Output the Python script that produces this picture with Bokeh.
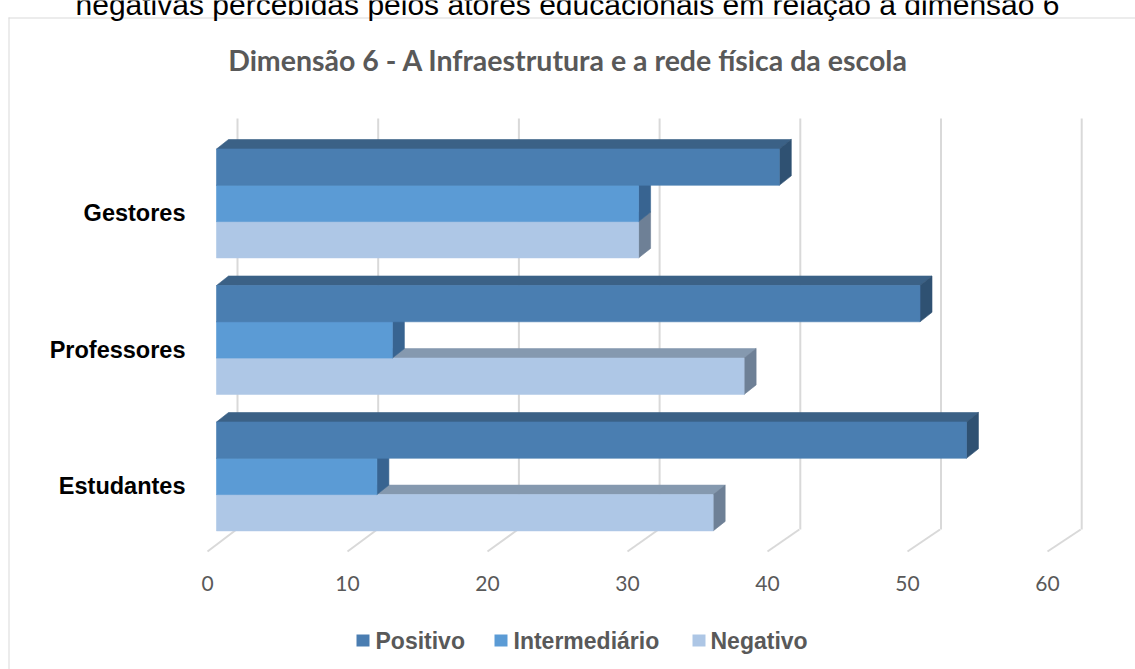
from bokeh.plotting import figure
from bokeh.models import Range1d
from bokeh.embed import file_html
from bokeh.resources import INLINE
from bokeh.core.properties import value

# ---------------- data ----------------
title_text = "Dimensão 6 - A Infraestrutura e a rede física da escola"
caption_text = "negativas percebidas pelos atores educacionais em relação à dimensão 6"
categories = ["Gestores", "Professores", "Estudantes"]
series_names = ["Positivo", "Intermediário", "Negativo"]
positivo = [40.0, 50.0, 53.3]
intermediario = [30.0, 12.5, 11.4]
negativo = [30.0, 37.5, 35.3]
ticks = [0, 10, 20, 30, 40, 50, 60]
tick_labels = ["0", "10", "20", "30", "40", "50", "60"]

# ---------------- styling / layout ----------------
front_colors = ["#4A7EB1", "#5B9BD5", "#AEC7E6"]
top_colors = ["#3B6186", "#4679A9", "#8599AF"]
side_colors = ["#2F5172", "#386491", "#6E8096"]
legend_colors = ["#4A7DB1", "#5B9BD5", "#ADC6E5"]
grid_color = "#D9D9D9"
text_gray = "#595959"

W, H = 1135, 669
K = 14.07          # px per unit on the back wall
ZERO_PX = 237      # px of value 0 on the back wall
x0 = -ZERO_PX / K
x1 = x0 + W / K


def ux(px):
    return (px - ZERO_PX) / K


FRONT = -21.0 / K      # front face offset of bars
DX = 12.0 / K          # depth in x (units)
DY = 9.5               # depth in y (px)
G0 = 148.5             # top of first group's front face (px)
GS = 136.5             # group spacing
BH = 36.3              # bar thickness

p = figure(width=W, height=H, x_range=Range1d(x0, x1), y_range=Range1d(H, 0),
           output_backend="svg", toolbar_location=None, min_border=0,
           x_axis_location=None, y_axis_location=None)
p.grid.visible = False
p.outline_line_color = None
p.background_fill_color = "white"
p.border_fill_color = "white"

# chart border (left and top visible)
p.line(x=[ux(8.5), ux(8.5)], y=[17, H], line_color=grid_color, line_width=1)
p.line(x=[ux(8), ux(W)], y=[17.5, 17.5], line_color=grid_color, line_width=1)

# back-wall gridlines and floor diagonals
GRID_TOP, GRID_BOT, FLOOR_FRONT = 118, 529, 551
p.segment(x0=ticks, y0=[GRID_TOP] * len(ticks), x1=ticks, y1=[GRID_BOT] * len(ticks),
          line_color=grid_color, line_width=2)
front_x = [ux(207 + 14.0 * t) for t in ticks]
p.segment(x0=front_x, y0=[FLOOR_FRONT] * len(ticks), x1=[t - 1.0 / K for t in ticks],
          y1=[GRID_BOT] * len(ticks), line_color=grid_color, line_width=2)

# tick labels
p.text(x=front_x, y=[583] * len(ticks), text=tick_labels, text_align="center",
       text_baseline="middle", text_font=value("Lato"), text_font_size="21px",
       text_color=text_gray)

# 3D bars
xs, ys, colors = [], [], []
series = [positivo, intermediario, negativo]
for i, cat in enumerate(categories):
    for j in reversed(range(len(series))):
        v = series[j][i]
        yt = G0 + GS * i + BH * j
        yb = yt + BH
        xl = 0 + FRONT
        xr = v + FRONT
        # top face
        xs.append([xl, xl + DX, xr + DX, xr]); ys.append([yt, yt - DY, yt - DY, yt]); colors.append(top_colors[j])
        # side face
        xs.append([xr, xr + DX, xr + DX, xr]); ys.append([yt, yt - DY, yb - DY, yb]); colors.append(side_colors[j])
        # front face
        xs.append([xl, xr, xr, xl]); ys.append([yt, yt, yb, yb]); colors.append(front_colors[j])
p.patches(xs=xs, ys=ys, fill_color=colors, line_color=colors, line_width=0.6)

# category labels
p.text(x=[ux(185)] * len(categories), y=[G0 + GS * i + 1.5 * BH + 10 for i in range(len(categories))],
       text=categories, text_align="right", text_baseline="middle",
       text_font=value("Liberation Sans"), text_font_style="bold", text_font_size="23.5px",
       text_color="#000000")

# title
p.text(x=[ux(568)], y=[59], text=[title_text], text_align="center", text_baseline="middle",
       text_font=value("Lato"), text_font_style="bold", text_font_size="28.5px", text_color=text_gray)

# caption at the top, cut by the page edge as in the source
p.text(x=[ux(567)], y=[4], text=[caption_text], text_align="center", text_baseline="alphabetic",
       text_font=value("Liberation Sans"), text_font_size="30px", text_color="#000000")

# legend
sq_px = [356, 494, 692]
tx_px = [375, 513, 710]
p.rect(x=[ux(c + 6.5) for c in sq_px], y=[640] * 3, width=13 / K, height=12,
       fill_color=legend_colors, line_color=None)
p.text(x=[ux(t) for t in tx_px], y=[640] * 3, text=series_names, text_align="left",
       text_baseline="middle", text_font=value("Liberation Sans"), text_font_style="bold",
       text_font_size="23px", text_color=text_gray)

open("out.html", "w").write(file_html(p, INLINE))
